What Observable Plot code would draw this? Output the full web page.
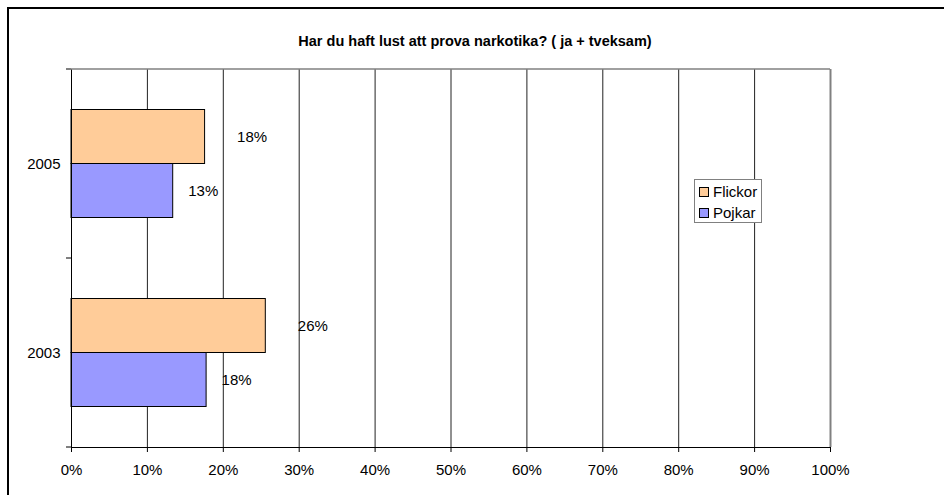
<!DOCTYPE html>
<html>
<head>
<meta charset="utf-8">
<script src="https://cdn.jsdelivr.net/npm/d3@7"></script>
<script src="https://cdn.jsdelivr.net/npm/@observablehq/plot@0.6"></script>
<style>
  body { margin: 0; background: #fff; font-family: "Liberation Sans", Arial, sans-serif; }
  #wrap { position: relative; width: 944px; height: 495px; overflow: hidden; background: #fff; }
  #border { position: absolute; left: 7px; top: 7px; width: 960px; height: 520px; z-index: 5;
            border-top: 2px solid #000; border-left: 2px solid #000; box-sizing: border-box;
            background: transparent; pointer-events: none; }
  #title { position: absolute; left: 0; width: 950px; top: 33px; text-align: center;
           font-weight: bold; font-size: 14.5px; line-height: 16px; color: #000; }
  #chart { position: absolute; left: 0; top: 60px; }
  #legend { position: absolute; left: 694px; top: 179px; width: 68px; height: 44px;
            border: 1px solid #808080; box-sizing: border-box; background: #fff; font-size: 15px; }
  .item { position: absolute; left: 4px; height: 16px; line-height: 16px; white-space: nowrap; }
  .sw { display: inline-block; width: 8px; height: 8px; border: 1px solid #000; margin-right: 4px; vertical-align: 0px; }
</style>
</head>
<body>
<div id="wrap">
  <div id="title"></div>
  <div id="chart"></div>
  <div id="legend"></div>
  <div id="border"></div>
</div>
<script>
const titleText = "Har du haft lust att prova narkotika? ( ja + tveksam)";
const years = ["2005", "2003"];
const series = ["Flickor", "Pojkar"];
const flickor = [0.176, 0.256];
const pojkar = [0.134, 0.178];
const colors = ["#FFCC99", "#9999FF"];
const xTicks = [0, 0.1, 0.2, 0.3, 0.4, 0.5, 0.6, 0.7, 0.8, 0.9, 1];
const gridTicks = [0.1, 0.2, 0.3, 0.4, 0.5, 0.6, 0.7, 0.8, 0.9];

document.getElementById("title").textContent = titleText;

const pct = d3.format(".0%");
const data = [];
years.forEach((yr, i) => {
  data.push({year: yr, series: "Flickor", value: flickor[i]});
  data.push({year: yr, series: "Pojkar", value: pojkar[i]});
});

const W = 944, H = 435;
const chart = Plot.plot({
  width: W,
  height: H,
  marginTop: 9,
  marginBottom: 48,
  marginLeft: 71,
  marginRight: 114,
  style: { fontFamily: "'Liberation Sans', Arial, sans-serif", fontSize: "15px", color: "#000", background: "transparent" },
  x: { domain: [0, 1], ticks: xTicks, tickFormat: pct, tickSize: 5, tickPadding: 12, label: null, line: true },
  fy: { domain: years, padding: 0, round: false, label: null, tickSize: 0, tickPadding: 11 },
  y: { domain: series, paddingInner: 0, paddingOuter: 0.75, round: false, axis: null },
  color: { domain: series, range: colors },
  marks: [
    Plot.ruleX(gridTicks, { stroke: "#222", strokeWidth: 1 }),
    Plot.ruleX([1], { stroke: "#808080", strokeWidth: 2 }),
    Plot.barX(data, { fy: "year", y: "series", x: "value", fill: "series", stroke: "#000", strokeWidth: 1 }),
    Plot.text(data.filter(d => d.series === "Flickor"), { fy: "year", y: "series", x: "value", text: d => pct(d.value), textAnchor: "start", dx: 32, fill: "#000" }),
    Plot.text(data.filter(d => d.series === "Pojkar"), { fy: "year", y: "series", x: "value", text: d => pct(d.value), textAnchor: "start", dx: 15, fill: "#000" }),
    Plot.ruleX([0], { stroke: "#000", strokeWidth: 1 })
  ]
});

// decorations derived from the chart's scales: top frame line and category boundary ticks
const xs = chart.scale("x");
const fys = chart.scale("fy");
const x0 = xs.range[0], x1 = xs.range[1];
const r0 = fys.range[0], r1 = fys.range[1];
const step = (r1 - r0) / fys.domain.length;
const g = d3.select(chart).append("g");
g.append("line").attr("x1", x0).attr("x2", x1).attr("y1", r0).attr("y2", r0)
  .attr("stroke", "#808080").attr("stroke-width", 1.5);
for (let i = 0; i <= fys.domain.length; i++) {
  const yy = r0 + i * step;
  g.append("line").attr("x1", x0 - 5).attr("x2", x0).attr("y1", yy).attr("y2", yy)
    .attr("stroke", "#000").attr("stroke-width", 1);
}
document.getElementById("chart").appendChild(chart);

// legend
const leg = document.getElementById("legend");
series.forEach((s, i) => {
  const it = document.createElement("div");
  it.className = "item";
  it.style.top = (4 + i * 21) + "px";
  const sw = document.createElement("span");
  sw.className = "sw";
  sw.style.background = colors[i];
  it.appendChild(sw);
  it.appendChild(document.createTextNode(s));
  leg.appendChild(it);
});
</script>
</body>
</html>
